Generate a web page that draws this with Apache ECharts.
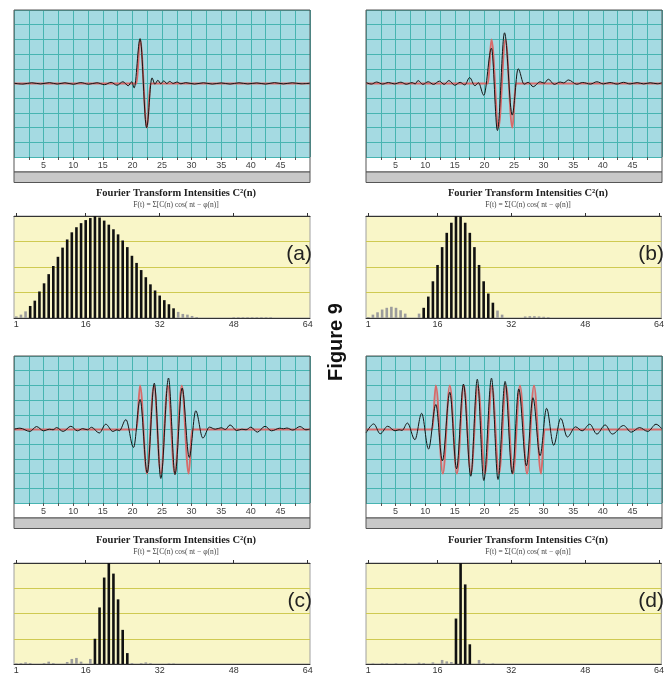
<!doctype html>
<html lang="en">
<head>
<meta charset="UTF-8">
<title>Figure 9</title>
<script src="https://cdn.jsdelivr.net/npm/echarts@6.0.0/dist/echarts.min.js"></script>
<style>
    html, body { margin: 0; padding: 0; background: #fff; }
    #chart { width: 667px; height: 675px; }
</style>
</head>
<body>
<div id="chart"></div>
<script>
    // axis labels
    const timeLabels = [5, 10, 15, 20, 25, 30, 35, 40, 45];
    const harmonicLabels = [1, 16, 32, 48, 64];
    const harmonics = [];
    for (let n = 1; n <= 64; n++) harmonics.push(String(n));
    const letters = ['(a)', '(b)', '(c)', '(d)'];

    // red = wave packet, [t, amplitude] at start, peaks, troughs, end
    const redA = [[0, 0], [20.7, 0], [21.29, 3], [22.47, -3], [23.06, 0], [50, 0]];
    const redB = [[0, 0], [20.6, 0], [21.19, 3], [22.37, -3], [23.55, 3], [24.73, -3], [25.32, 0], [50, 0]];
    const redC = [[0, 0], [20.7, 0], [21.29, 3], [22.46, -3], [23.64, 3], [24.81, -3], [25.99, 3], [27.16, -3],
        [28.34, 3], [29.51, -3], [30.1, 0], [50, 0]];
    const redD = [[0, 0], [11.2, 0], [11.79, 3], [12.98, -3], [14.16, 3], [15.35, -3], [16.53, 3], [17.72, -3],
        [18.9, 3], [20.09, -3], [21.27, 3], [22.46, -3], [23.64, 3], [24.83, -3], [26.01, 3], [27.2, -3],
        [28.38, 3], [29.57, -3], [30.16, 0], [50, 0]];

    // black = Fourier sum, [t, amplitude] at its peaks and troughs
    const blackA = [[0, 0.02], [1.5, -0.04], [3, 0.05], [4.5, -0.03], [6, 0.06], [7.3, -0.04], [8.6, 0.05],
        [10, -0.05], [11.3, 0.06], [12.6, -0.05], [14, 0.05], [15.3, -0.08], [16.4, 0.08], [17.4, -0.12],
        [18.4, 0.12], [19.3, -0.15], [19.9, 0.12], [20.3, -0.3], [21.3, 3.05], [22.4, -3.0], [23.3, 0.38],
        [23.8, -0.05], [24.3, 0.22], [24.8, -0.02], [25.3, 0.18], [25.8, 0.0], [26.3, 0.14], [26.9, 0.0],
        [27.5, 0.1], [28.2, -0.02], [29, 0.06], [30.5, -0.04], [32, 0.05], [33.5, -0.04], [35, 0.04],
        [36.5, -0.04], [38, 0.05], [39.5, -0.03], [41, 0.04], [42.5, -0.04], [44, 0.06], [45.5, -0.03],
        [47, 0.05], [48.5, -0.02], [50, 0.02]];
    const blackB = [[0, 0.07], [0.9, -0.04], [1.8, 0.1], [2.8, -0.04], [3.8, 0.07], [4.8, -0.03], [5.9, 0.09],
        [6.8, -0.05], [7.8, 0.06], [8.3, -0.03], [8.8, 0.2], [9.6, -0.06], [10.5, 0.12], [11.4, -0.06],
        [12.4, 0.16], [13.2, -0.06], [14.0, 0.2], [15.0, -0.12], [15.9, 0.08], [16.7, -0.1], [17.5, 0.4],
        [18.4, -0.15], [19.0, 0.05], [19.9, -0.8], [21.2, 2.4], [22.2, -3.2], [23.4, 3.45], [24.7, -2.15],
        [25.7, 1.0], [26.7, -0.05], [27.4, 0.08], [28.25, -0.22], [29.4, 0.12], [30.1, 0.02], [30.8, 0.29],
        [31.8, -0.06], [32.8, 0.1], [33.4, 0.04], [34.2, 0.24], [35.6, -0.05], [36.6, 0.07], [37.9, -0.04],
        [39, 0.12], [40.1, -0.03], [41.2, 0.07], [42.4, -0.04], [43.5, 0.08], [44.6, -0.03], [45.8, 0.06],
        [46.9, -0.03], [48, 0.05], [49.2, -0.02], [50, 0.05]];
    const blackC = [[0, 0.02], [1.0, 0.09], [2.7, -0.13], [3.8, 0.2], [5.0, -0.09], [6.0, 0.02], [6.6, -0.02],
        [7.2, 0.13], [8.3, -0.13], [9.6, 0.22], [10.7, -0.09], [11.6, 0.06], [12.4, -0.02], [13.1, 0.15],
        [14.4, -0.24], [15.5, 0.36], [16.7, -0.13], [17.4, -0.02], [17.8, -0.08], [18.9, 0.67], [20.2, -1.22],
        [21.3, 2.04], [22.5, -2.95], [23.7, 3.15], [24.8, -3.33], [26.1, 3.5], [27.2, -3.07], [28.4, 2.82],
        [29.6, -1.9], [30.7, 1.27], [31.9, -0.58], [33.0, 0.16], [34.0, 0.02], [35.0, 0.12], [35.7, 0.0],
        [36.5, 0.31], [37.6, -0.07], [38.5, 0.02], [39.2, -0.02], [40.0, 0.16], [41.1, -0.18], [42.4, 0.22],
        [43.5, -0.09], [44.9, 0.09], [45.5, 0.05], [46.1, 0.1], [47.1, -0.04], [48.3, 0.2], [49.3, -0.02],
        [50, 0.03]];
    const blackD = [[0, -0.24], [1.3, 0.38], [2.4, -0.29], [3.65, 0.22], [4.9, -0.09], [5.6, -0.02], [6.1, -0.06],
        [7.0, 0.44], [8.26, -0.69], [9.4, 1.1], [10.56, -1.33], [11.8, 1.7], [12.9, -2.13], [14.16, 2.53],
        [15.3, -2.67], [16.46, 3.09], [17.7, -3.18], [18.8, 3.42], [19.9, -3.47], [21.2, 3.49], [22.3, -3.4],
        [23.5, 3.27], [24.7, -3.0], [25.8, 2.76], [27.1, -2.47], [28.2, 2.16], [29.4, -1.78], [30.5, 1.44],
        [31.7, -1.07], [32.9, 0.76], [34.0, -0.51], [35.4, 0.18], [36.5, -0.09], [37.8, 0.36], [39.0, -0.31],
        [40.4, 0.31], [41.6, -0.31], [43.5, 0.27], [44.8, -0.18], [46.2, 0.13], [47.6, -0.13], [49, 0.36],
        [50, 0.04]];

    // C^2(n): black bars start at harmonic barStart, gray bars are [n, value]
    const barStartA = 4;
    const barsA = [11.8, 17, 26, 34, 43, 51, 60, 69, 77, 84, 89, 93, 96, 98, 100, 98.5, 95.5, 91.5, 87, 82, 76,
        69.5, 61, 54, 47, 40, 33, 27, 22, 17.5, 13.5, 9.5];
    const grayA = [[1, 1.6], [2, 3.3], [3, 6.5], [36, 6], [37, 4], [38, 3.3], [39, 2], [40, 1], [48, 0.7],
        [49, 0.7], [50, 0.7], [51, 0.7], [52, 0.7], [53, 0.7], [54, 0.7], [55, 0.7], [56, 0.7]];

    const barStartB = 13;
    const barsB = [10, 21, 36, 52, 69.5, 83.5, 93.4, 100, 99.3, 93.4, 83.5, 69.5, 52, 36, 24, 15];
    const grayB = [[1, 1], [2, 3.3], [3, 5.6], [4, 8.3], [5, 10], [6, 11], [7, 10], [8, 7.6], [9, 4.3], [12, 4.3],
        [29, 7.3], [30, 3.3], [35, 1.5], [36, 1.8], [37, 1.8], [38, 1.5], [39, 1.2], [40, 0.8]];

    const barStartC = 18;
    const barsC = [25, 56, 85.6, 100, 89.5, 64, 33.8, 10.8];
    const grayC = [[1, 0.6], [2, 1], [3, 1.6], [4, 1], [7, 1], [8, 2.3], [9, 1], [12, 2], [13, 5], [14, 6],
        [15, 2.3], [17, 5], [26, 1], [28, 1], [29, 1.6], [30, 1], [34, 0.6], [35, 0.6]];

    const barStartD = 20;
    const barsD = [45, 100, 78.8, 19.5];
    const grayD = [[2, 0.5], [4, 0.7], [5, 0.7], [7, 0.7], [9, 0.7], [12, 1.3], [13, 1], [15, 1.6], [17, 4],
        [18, 2.6], [19, 2], [25, 4], [26, 1], [28, 0.7]];

    function blackBars(start, vals) {
        const out = new Array(64).fill(null);
        vals.forEach((v, i) => { out[start - 1 + i] = v; });
        return out;
    }
    function grayBars(pairs) {
        const out = new Array(64).fill(null);
        pairs.forEach(([n, v]) => { out[n - 1] = v; });
        return out;
    }

    const W = 296;
    const panels = [
        { left: 14, waveTop: 10, barTop: 216, red: redA, black: blackA, bars: blackBars(barStartA, barsA), gray: grayBars(grayA) },
        { left: 366, waveTop: 10, barTop: 216, red: redB, black: blackB, bars: blackBars(barStartB, barsB), gray: grayBars(grayB) },
        { left: 14, waveTop: 356, barTop: 563, red: redC, black: blackC, bars: blackBars(barStartC, barsC), gray: grayBars(grayC) },
        { left: 366, waveTop: 356, barTop: 563, red: redD, black: blackD, bars: blackBars(barStartD, barsD), gray: grayBars(grayD) }
    ];

    const grid = [], xAxis = [], yAxis = [], series = [], graphic = [];
    const cyanLine = '#47b4b1';
    const yellowLine = '#cfca52';

    panels.forEach((p, i) => {
        // waveform
        grid.push({ left: p.left, top: p.waveTop, width: W, height: 147, show: true,
            backgroundColor: '#a5dae2', borderWidth: 0 });
        // intensities
        grid.push({ left: p.left, top: p.barTop, width: W, height: 102, show: true,
            backgroundColor: '#f9f6c8', borderColor: '#a0a0a0', borderWidth: 1 });

        xAxis.push({
            gridIndex: 2 * i, type: 'value', min: 0, max: 50, interval: 2.5,
            axisLine: { show: false, onZero: false },
            axisTick: { show: true, length: 3, lineStyle: { color: '#555' } },
            axisLabel: {
                fontSize: 9, color: '#444', margin: 4, fontFamily: 'Liberation Sans',
                showMinLabel: false, showMaxLabel: false,
                formatter: v => timeLabels.includes(v) ? String(v) : ''
            },
            splitLine: { show: true, lineStyle: { color: cyanLine, width: 1 } }
        });
        xAxis.push({
            gridIndex: 2 * i + 1, type: 'category', data: harmonics, boundaryGap: true,
            axisLine: { show: true, lineStyle: { color: '#333' } },
            axisTick: { show: false },
            axisLabel: {
                fontSize: 9, color: '#333', margin: 2, fontFamily: 'Liberation Sans',
                interval: (idx, val) => harmonicLabels.includes(Number(val))
            },
            splitLine: { show: false }
        });
        xAxis.push({
            gridIndex: 2 * i + 1, type: 'category', data: harmonics, position: 'top', boundaryGap: true,
            axisLine: { show: true, lineStyle: { color: '#333' } },
            axisTick: {
                show: true, length: 3, alignWithLabel: true, lineStyle: { color: '#333' },
                interval: (idx, val) => harmonicLabels.includes(Number(val))
            },
            axisLabel: { show: false },
            splitLine: { show: false }
        });

        yAxis.push({
            gridIndex: 2 * i, type: 'value', min: -5, max: 5, interval: 1,
            axisLine: { show: false }, axisTick: { show: false }, axisLabel: { show: false },
            splitLine: { show: true, lineStyle: { color: cyanLine, width: 1 } }
        });
        yAxis.push({
            gridIndex: 2 * i + 1, type: 'value', min: 0, max: 100, interval: 25,
            axisLine: { show: false }, axisTick: { show: false }, axisLabel: { show: false },
            splitLine: { show: true, lineStyle: { color: yellowLine, width: 1 } }
        });

        series.push({
            type: 'line', xAxisIndex: 3 * i, yAxisIndex: 2 * i, data: p.red,
            smooth: 0.35, smoothMonotone: 'x', showSymbol: false, silent: true, z: 2,
            lineStyle: { color: '#d86a6a', width: 2 }
        });
        series.push({
            type: 'line', xAxisIndex: 3 * i, yAxisIndex: 2 * i, data: p.black,
            smooth: 0.35, smoothMonotone: 'x', showSymbol: false, silent: true, z: 3,
            lineStyle: { color: '#151515', width: 1 }
        });
        series.push({
            type: 'bar', xAxisIndex: 3 * i + 1, yAxisIndex: 2 * i + 1, data: p.bars,
            barWidth: 2.6, barGap: '-100%', silent: true, itemStyle: { color: '#111' }
        });
        series.push({
            type: 'bar', xAxisIndex: 3 * i + 1, yAxisIndex: 2 * i + 1, data: p.gray,
            barWidth: 2.6, barGap: '-100%', silent: true, itemStyle: { color: '#9c9c9c' }
        });

        // frame round the waveform + label strip, then the gray band
        graphic.push({
            type: 'rect', z: 10, silent: true,
            shape: { x: p.left, y: p.waveTop, width: W, height: 162 },
            style: { fill: 'transparent', stroke: '#555', lineWidth: 1 }
        });
        graphic.push({
            type: 'rect', z: 10, silent: true,
            shape: { x: p.left, y: p.waveTop + 162, width: W, height: 10.5 },
            style: { fill: '#c8c8c8', stroke: '#555', lineWidth: 1 }
        });
        graphic.push({
            type: 'text', z: 10, silent: true, x: p.left + 162, y: p.barTop - 23,
            style: {
                text: 'Fourier Transform Intensities C\u00b2(n)', font: 'bold 10.5px "Liberation Serif"',
                fill: '#222', align: 'center', verticalAlign: 'middle',
                textAlign: 'center', textVerticalAlign: 'middle'
            }
        });
        graphic.push({
            type: 'text', z: 10, silent: true, x: p.left + 162, y: p.barTop - 11,
            style: {
                text: 'F(t) = \u03a3[C(n) cos( nt \u2212 \u03c6(n)]', font: '7.5px "Liberation Serif"',
                fill: '#444', align: 'center', verticalAlign: 'middle',
                textAlign: 'center', textVerticalAlign: 'middle'
            }
        });
        graphic.push({
            type: 'text', z: 10, silent: true, x: p.left + 298, y: p.barTop + 38,
            style: {
                text: letters[i], font: '21px "Liberation Sans"', fill: '#222',
                align: 'right', verticalAlign: 'middle', textAlign: 'right', textVerticalAlign: 'middle'
            }
        });
    });

    graphic.push({
        type: 'text', z: 10, silent: true, x: 336, y: 342, rotation: Math.PI / 2,
        style: {
            text: 'Figure 9', font: 'bold 20px "Liberation Sans"', fill: '#111',
            align: 'center', verticalAlign: 'middle', textAlign: 'center', textVerticalAlign: 'middle'
        }
    });

    const chart = echarts.init(document.getElementById('chart'));
    chart.setOption({
        animation: false,
        backgroundColor: '#fff',
        grid: grid,
        xAxis: xAxis,
        yAxis: yAxis,
        series: series,
        graphic: graphic
    });
</script>
</body>
</html>
